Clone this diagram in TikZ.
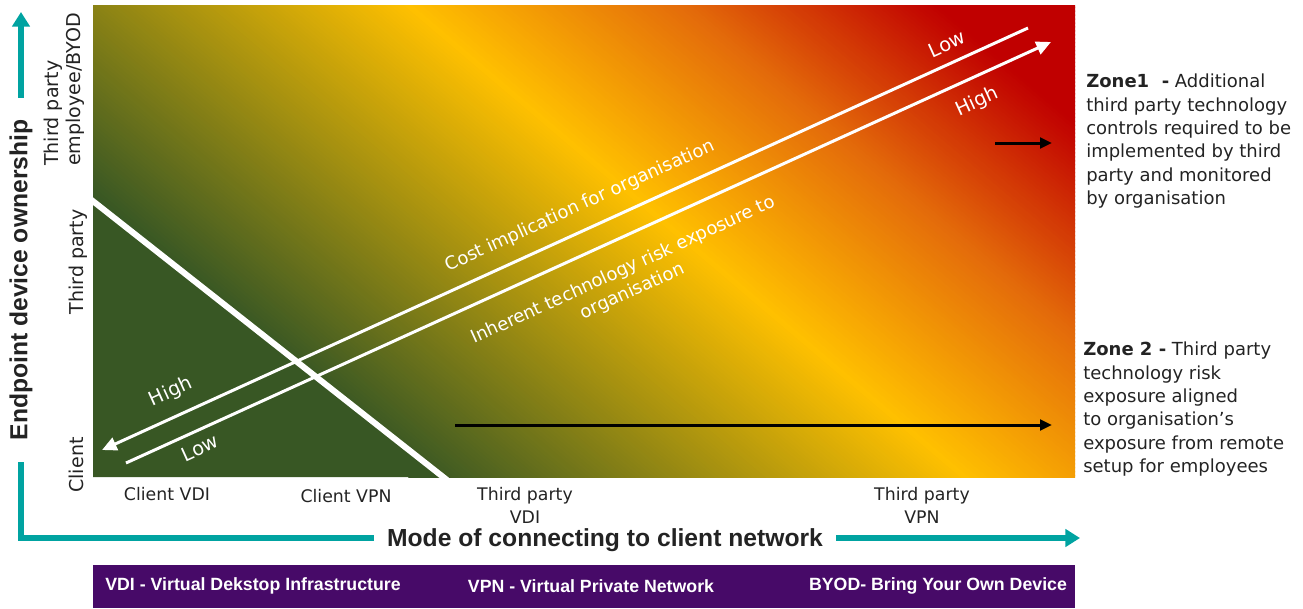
\documentclass[tikz,border=0pt]{standalone}
\usepackage{fontspec}
\setmainfont{DejaVu Sans}
\newfontfamily\lib{Liberation Sans}
\usetikzlibrary{arrows.meta}
\definecolor{G}{RGB}{56,87,36}
\definecolor{Y}{RGB}{255,192,0}
\definecolor{O}{RGB}{228,108,10}
\definecolor{R}{RGB}{192,0,0}
\definecolor{tealc}{RGB}{0,163,161}
\definecolor{purp}{RGB}{71,10,104}
\definecolor{txt}{RGB}{35,35,35}
\begin{document}
\begin{tikzpicture}[x=0.75pt,y=-0.75pt,
  linelbl/.style={text=white, font=\fontsize{13.5}{17.3}\selectfont, rotate=24.5, align=center, inner sep=0},
  lohi/.style={text=white, font=\fontsize{14.5}{17}\selectfont, rotate=24.5, inner sep=0},
  wline/.style={draw=white, line width=2.25pt},
  warrow/.style={wline, -{Triangle[length=11pt,width=10pt]}},
  barrow/.style={draw=black, line width=2.25pt, -{Triangle[length=9pt,width=8pt]}},
  axisline/.style={draw=tealc, line width=4.5pt},
  axlbl/.style={text=txt, font=\fontsize{13}{17.3}\selectfont, align=center, inner sep=0},
  ylbl/.style={text=txt, font=\fontsize{14.3}{16.5}\selectfont, rotate=90, inner sep=0},
  zone/.style={text=txt, font=\fontsize{13.5}{17.5}\selectfont, align=left, anchor=north west, inner sep=0},
  axtitle/.style={text=txt, font=\lib\bfseries\fontsize{18.5}{22}\selectfont, fill=white},
  purptxt/.style={text=white, font=\lib\bfseries\fontsize{13.3}{15}\selectfont, inner sep=0}
]
\useasboundingbox (0,0) rectangle (1303,608);

% gradient field
\begin{scope}
\clip (93,5) rectangle (1075,477);
\fill[G] (93,5) rectangle (1075,477);
\foreach \uu in {-100,-97,...,700}{
  \pgfmathsetmacro{\aa}{max(0,min(100,(\uu+90)/3.49))}
  \pgfmathsetmacro{\bb}{max(0,min(100,(\uu-259)/1.76))}
  \pgfmathsetmacro{\cc}{max(0,min(100,(\uu-435)/1.65))}
  \ifdim\uu pt<259pt \colorlet{stripc}{Y!\aa!G}\else\ifdim\uu pt<435pt \colorlet{stripc}{O!\bb!Y}\else\colorlet{stripc}{R!\cc!O}\fi\fi
  \fill[stripc] ({0.647*\uu-76.3},{-0.763*\uu-64.7}) -- ({0.647*\uu+991.9},{-0.763*\uu+841.1}) -- ({0.647*(\uu+4)+991.9},{-0.763*(\uu+4)+841.1}) -- ({0.647*(\uu+4)-76.3},{-0.763*(\uu+4)-64.7}) -- cycle;
}
\fill[G] (93,201) -- (443,477) -- (93,477) -- cycle;
\coordinate (d1) at (89,198);
\coordinate (d2) at (447,480);
\draw[white, line width=4.5pt] (d1) -- (d2);
\end{scope}

% white trend arrows
\coordinate (cA) at (1028,28);
\coordinate (cB) at (102,450);
\coordinate (rA) at (126,463);
\coordinate (rB) at (1051,42);
\draw[warrow] (cA) -- (cB);
\draw[warrow] (rA) -- (rB);

\node[linelbl] (cost) at (580,206) {Cost implication for organisation};
\node[linelbl] (risk) at (628,281) {Inherent technology risk exposure to\\organisation};
\node[lohi] (lowtop) at (947,44) {Low};
\node[lohi] (hightop) at (977,102) {High};
\node[lohi] (highbot) at (171,392) {High};
\node[lohi] (lowbot) at (200,448) {Low};

% black arrows
\coordinate (z1s) at (995,143);
\coordinate (z1e) at (1052,143);
\coordinate (z2s) at (455,425);
\coordinate (z2e) at (1052,425);
\draw[barrow] (z1s) -- (z1e);
\draw[barrow] (z2s) -- (z2e);

% axes
\coordinate (ytip) at (21,12);
\coordinate (orig) at (21,538);
\coordinate (xtip) at (1080,538);
\draw[axisline, {Triangle[length=11pt,width=13pt]}-{Triangle[length=11pt,width=13pt]}] (ytip) -- (orig) -- (xtip);
\node[axtitle, rotate=90, inner xsep=16pt, inner ysep=3pt] (ytitle) at (21,280) {Endpoint device ownership};
\node[axtitle, inner xsep=10pt, inner ysep=3pt] (xtitle) at (605,540) {Mode of connecting to client network};

% axis labels
\node[axlbl] (xl1) at (167,494) {Client VDI};
\node[axlbl] (xl2) at (346,496) {Client VPN};
\node[axlbl] (xl3) at (525,505) {Third party\\VDI};
\node[axlbl] (xl4) at (922,505) {Third party\\VPN};
\node[ylbl, align=left, anchor=west] (yl3) at (64,166) {Third party\\employee/BYOD};
\node[ylbl] (yl2) at (78,262) {Third party};
\node[ylbl] (yl1) at (76,465) {Client};

% zone texts
\node[zone] (zone1) at (1086,74) {\textbf{Zone1 \ -} Additional\\third party technology\\controls required to be\\implemented by third\\party and monitored\\by organisation};
\node[zone] (zone2) at (1083,342) {\textbf{Zone 2 -} Third party\\technology risk\\exposure aligned\\to organisation’s\\exposure from remote\\setup for employees};

% legend bar
\fill[purp] (93,565) rectangle (1075,608);
\node[purptxt] (p1) at (253,586) {VDI - Virtual Dekstop Infrastructure};
\node[purptxt] (p2) at (591,586) {VPN - Virtual Private Network};
\node[purptxt] (p3) at (938,586) {BYOD- Bring Your Own Device};
\end{tikzpicture}
\end{document}
